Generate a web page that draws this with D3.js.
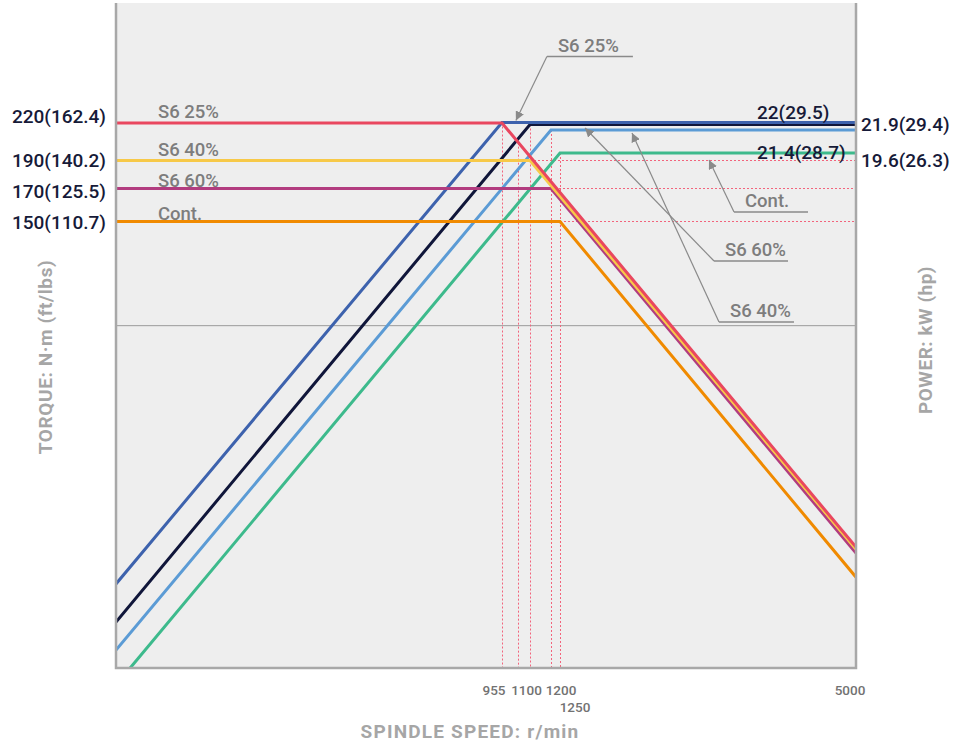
<!DOCTYPE html>
<html>
<head>
<meta charset="utf-8">
<script src="https://cdn.jsdelivr.net/npm/d3@7"></script>
<style>
  body { margin: 0; background: #fff; }
  text { font-family: Roboto, "Noto Sans", sans-serif; }
</style>
</head>
<body>
<div id="chart"></div>
<script>
// values (schematic S1/S6 spindle diagram)
var seriesNames = ["S6 25%", "S6 40%", "S6 60%", "Cont."];
var torqueLevels = [220, 190, 170, 150];            // N·m, flat part
var torqueLabels = ["220(162.4)", "190(140.2)", "170(125.5)", "150(110.7)"];
var torqueCorner = [955, 1100, 1200, 1250];         // r/min where torque starts to fall
var torqueAtMax = [40.6, 39.9, 38.6, 30.5];         // N·m at 5000 r/min
var powerLevels = [22, 21.9, 21.4, 19.6];           // kW, flat part
var powerCorner = [955, 1100, 1200, 1250];
var powerStartSpeed = [0, 0, 0, 35];
var powerStart = [3.2, 1.75, 0.68, 0];
var powerLabelsIn = ["22(29.5)", "21.4(28.7)"];
var powerLabelsOut = ["21.9(29.4)", "19.6(26.3)"];
var speedTicks = [955, 1100, 1200, 1250, 5000];
var maxSpeed = 5000;
var gridTorque = 115;
var extraGuideSpeed = 1040;
var calloutNames = ["S6 25%", "S6 60%", "S6 40%", "Cont."];
var calloutSpeed = [1027, 1567, 2162, 3138];
var calloutPower = [22, 21.9, 21.4, 19.6];

var torqueColors = ["#e9475f", "#f7c948", "#b23c7f", "#f08a00"];
var powerColors = ["#3d62ad", "#10163a", "#5b9bd5", "#3dba8c"];

function whenDocumentLoaded(action) {
  if (document.readyState === "loading") {
    document.addEventListener("DOMContentLoaded", action);
  } else {
    action();
  }
}

function drawChart() {
  var W = 962, H = 748;
  var left = 116, right = 856, top = 3, bottom = 668;

  var svg = d3.select("#chart").append("svg")
    .attr("width", W)
    .attr("height", H);

  // piecewise speed scale: the drawing is not to scale
  var x = d3.scaleLinear()
    .domain([0].concat(torqueCorner, [maxSpeed]))
    .range([left, 502, 530, 551, 560, right]);

  var yT = d3.scaleLinear()
    .domain([0, 150, 170, 190, 220])
    .range([bottom, 221.5, 188.5, 160.5, 123]);

  var yP = d3.scaleLinear()
    .domain([0, 19.6, 21.4, 21.9, 22])
    .range([bottom, 153, 130, 124.5, 122.5]);

  svg.append("defs").append("clipPath")
    .attr("id", "clip")
    .append("rect")
    .attr("x", left).attr("y", top)
    .attr("width", right - left).attr("height", bottom - top);

  svg.select("defs").append("marker")
    .attr("id", "arrow")
    .attr("viewBox", "0 0 10 10")
    .attr("refX", 10).attr("refY", 5)
    .attr("markerWidth", 9).attr("markerHeight", 9)
    .attr("markerUnits", "userSpaceOnUse")
    .attr("orient", "auto")
    .append("path")
    .attr("d", "M0,0 L10,5 L0,10 z")
    .attr("fill", "#8a8a8a");

  svg.append("rect")
    .attr("x", left).attr("y", top)
    .attr("width", right - left).attr("height", bottom - top)
    .attr("fill", "#eeeeee");

  var plot = svg.append("g").attr("clip-path", "url(#clip)");

  // grid line
  plot.append("line")
    .attr("x1", left).attr("x2", right)
    .attr("y1", yT(gridTorque)).attr("y2", yT(gridTorque))
    .attr("stroke", "#9a9a9a").attr("stroke-width", 1);

  // torque and power curves as point lists
  var torqueData = seriesNames.map(function(n, i) {
    return [[0, torqueLevels[i]], [torqueCorner[i], torqueLevels[i]], [maxSpeed, torqueAtMax[i]]];
  });
  var powerData = seriesNames.map(function(n, i) {
    return [[powerStartSpeed[i], powerStart[i]], [powerCorner[i], powerLevels[i]], [maxSpeed, powerLevels[i]]];
  });

  // pixel position on a curve at a given speed
  function yOnCurve(pts, yScale, s) {
    for (var k = 0; k < pts.length - 1; k++) {
      if (s >= pts[k][0] && s <= pts[k + 1][0]) {
        var x0 = x(pts[k][0]), x1 = x(pts[k + 1][0]);
        var t = (x(s) - x0) / (x1 - x0);
        return yScale(pts[k][1]) + t * (yScale(pts[k + 1][1]) - yScale(pts[k][1]));
      }
    }
    return bottom;
  }

  // dotted guides
  var guides = plot.append("g")
    .attr("stroke", "#f2647c")
    .attr("stroke-width", 1)
    .attr("stroke-dasharray", "2,2");

  var vGuides = powerCorner.map(function(s, i) {
    return { s: s, y: yP(powerLevels[i]) };
  });
  vGuides.push({ s: extraGuideSpeed, y: yOnCurve(torqueData[0], yT, extraGuideSpeed) });

  guides.selectAll("line.v")
    .data(vGuides)
    .enter().append("line")
    .attr("class", "v")
    .attr("x1", function(d) { return Math.floor(x(d.s)) + 0.5; })
    .attr("x2", function(d) { return Math.floor(x(d.s)) + 0.5; })
    .attr("y1", function(d) { return d.y; })
    .attr("y2", bottom);

  guides.selectAll("line.h")
    .data(d3.range(1, 4))
    .enter().append("line")
    .attr("class", "h")
    .attr("x1", function(i) { return x(torqueCorner[i]); })
    .attr("x2", right)
    .attr("y1", function(i) { return Math.floor(yT(torqueLevels[i])) + 0.5; })
    .attr("y2", function(i) { return Math.floor(yT(torqueLevels[i])) + 0.5; });

  var lineT = d3.line()
    .x(function(d) { return x(d[0]); })
    .y(function(d) { return yT(d[1]); });
  var lineP = d3.line()
    .x(function(d) { return x(d[0]); })
    .y(function(d) { return yP(d[1]); });

  // power lines (navy under the blue at the top)
  [1, 2, 3, 0].forEach(function(i) {
    plot.append("path")
      .attr("d", lineP(powerData[i]))
      .attr("fill", "none")
      .attr("stroke", powerColors[i])
      .attr("stroke-width", 3);
  });

  // torque lines, red last so it sits on the yellow
  [3, 2, 1, 0].forEach(function(i) {
    plot.append("path")
      .attr("d", lineT(torqueData[i]))
      .attr("fill", "none")
      .attr("stroke", torqueColors[i])
      .attr("stroke-width", 3);
  });

  // plot frame: left, right, bottom
  svg.append("path")
    .attr("d", "M" + left + "," + top + "V" + bottom + "H" + right + "V" + top)
    .attr("fill", "none")
    .attr("stroke", "#a8a8a8")
    .attr("stroke-width", 2.5);

  // series names on the left
  var nameDy = [-5, -5, -2, -2];
  svg.selectAll("text.sname")
    .data(seriesNames)
    .enter().append("text")
    .attr("class", "sname")
    .attr("x", left + 42)
    .attr("y", function(d, i) { return yT(torqueLevels[i]) + nameDy[i]; })
    .attr("fill", "#7d7d7d")
    .attr("font-size", 18.5)
    .attr("font-weight", 500)
    .text(function(d) { return d; });

  // torque values on the left
  var tickDy = [-7, 0, 2.5, 1];
  svg.selectAll("text.tval")
    .data(torqueLabels)
    .enter().append("text")
    .attr("class", "tval")
    .attr("x", left - 10)
    .attr("y", function(d, i) { return yT(torqueLevels[i]) + tickDy[i]; })
    .attr("dy", "0.35em")
    .attr("text-anchor", "end")
    .attr("fill", "#161a38")
    .attr("font-size", 19)
    .attr("font-weight", 500)
    .text(function(d) { return d; });

  // power values
  function powerText(px, py, s) {
    svg.append("text")
      .attr("x", px).attr("y", py).attr("dy", "0.35em")
      .attr("fill", "#161a38").attr("font-size", 19).attr("font-weight", 500)
      .text(s);
  }
  powerText(right + 5, yP(powerLevels[1]), powerLabelsOut[0]);
  powerText(right + 5, yP(powerLevels[3]) + 7, powerLabelsOut[1]);
  powerText(right - 99, yP(powerLevels[0]) - 10, powerLabelsIn[0]);
  powerText(right - 99, yP(powerLevels[3]) - 1, powerLabelsIn[1]);

  // speed tick labels
  var tickDx = [-8, -3.5, 10, 15, -6];
  var tickRow = [0, 0, 0, 1, 0];
  svg.selectAll("text.xtick")
    .data(speedTicks)
    .enter().append("text")
    .attr("class", "xtick")
    .attr("x", function(d, i) { return x(d) + tickDx[i]; })
    .attr("y", function(d, i) { return bottom + 27 + tickRow[i] * 17; })
    .attr("text-anchor", "middle")
    .attr("fill", "#727272")
    .attr("font-size", 13.5)
    .attr("font-weight", 500)
    .text(function(d) { return d; });

  // callouts
  var elbowDx = [31, 129, 87, 25];
  var elbowDy = [-64, 133, 189, 52];
  var tipDy = [-2, 3.5, 3, 7];
  var ulen = [86, 74, 75, 74];
  var callouts = svg.append("g");
  calloutNames.forEach(function(n, i) {
    var tx = x(calloutSpeed[i]), ty = yP(calloutPower[i]) + tipDy[i];
    var ex = tx + elbowDx[i], ey = ty + elbowDy[i];
    callouts.append("line")
      .attr("x1", ex).attr("y1", ey)
      .attr("x2", tx).attr("y2", ty)
      .attr("stroke", "#8a8a8a").attr("stroke-width", 1.2)
      .attr("marker-end", "url(#arrow)");
    callouts.append("line")
      .attr("x1", ex).attr("y1", ey)
      .attr("x2", ex + ulen[i]).attr("y2", ey)
      .attr("stroke", "#8a8a8a").attr("stroke-width", 1.5);
    callouts.append("text")
      .attr("x", ex + 11).attr("y", ey - 5)
      .attr("fill", "#7d7d7d")
      .attr("font-size", 18.5)
      .attr("font-weight", 500)
      .text(n);
  });

  // axis titles
  svg.append("text")
    .attr("x", 470).attr("y", 738)
    .attr("text-anchor", "middle")
    .attr("fill", "#a6a6a6").attr("font-size", 19).attr("font-weight", 700)
    .attr("letter-spacing", 1.2)
    .text("SPINDLE SPEED: r/min");

  svg.append("text")
    .attr("transform", "translate(52,357) rotate(-90)")
    .attr("text-anchor", "middle")
    .attr("fill", "#a6a6a6").attr("font-size", 19).attr("font-weight", 700)
    .attr("letter-spacing", 0.6)
    .text("TORQUE: N·m (ft/lbs)");

  svg.append("text")
    .attr("transform", "translate(932,340) rotate(-90)")
    .attr("text-anchor", "middle")
    .attr("fill", "#a6a6a6").attr("font-size", 19).attr("font-weight", 700)
    .attr("letter-spacing", 0.5)
    .text("POWER: kW (hp)");
}

whenDocumentLoaded(drawChart);
</script>
</body>
</html>
